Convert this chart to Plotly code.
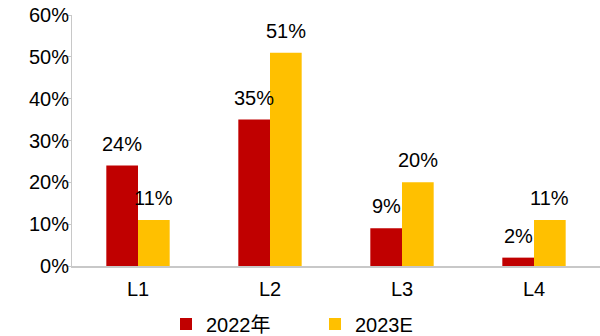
import plotly.graph_objects as go

categories = ["L1", "L2", "L3", "L4"]
series_names = ["2022年", "2023E"]
values_2022 = [24, 35, 9, 2]
values_2023 = [11, 51, 20, 11]
y_ticks = [0, 10, 20, 30, 40, 50, 60]
y_tick_labels = [f"{v}%" for v in y_ticks]

colors = ["#C00000", "#FFC000"]
font_family = "Liberation Sans, Arial, Noto Sans CJK SC, sans-serif"

fig = go.Figure()
for name, vals, col in zip(series_names, [values_2022, values_2023], colors):
    fig.add_trace(go.Bar(x=categories, y=vals, name=name, marker_color=col,
                         marker_line_width=0))

# value labels above bars
offsets = [-0.12, 0.12]
for off, vals in zip(offsets, [values_2022, values_2023]):
    for i, v in enumerate(vals):
        fig.add_annotation(x=i + off, y=v, text=f"{v}%", showarrow=False,
                           xref="x", yref="y", yanchor="bottom", yshift=9,
                           font=dict(size=20, color="#000000", family=font_family))

fig.update_layout(
    width=600, height=336,
    margin=dict(l=72, r=0, t=15, b=70),
    paper_bgcolor="white", plot_bgcolor="white",
    barmode="group", bargap=0.52, bargroupgap=0,
    font=dict(family=font_family, size=20, color="#000000"),
    showlegend=True,
    legend=dict(orientation="h", xref="container", yref="container",
                x=166 / 600, y=1 - 324 / 336, xanchor="left", yanchor="middle",
                font=dict(size=20), itemwidth=30,
                entrywidth=104, entrywidthmode="pixels",
                traceorder="normal"),
)
fig.update_xaxes(showline=True, linecolor="#C8C8C8", linewidth=2,
                 ticks="", showgrid=False, tickfont=dict(size=20),
                 ticklabelstandoff=4)
fig.update_yaxes(range=[0, 60], tickvals=y_ticks, ticktext=y_tick_labels,
                 showline=True, linecolor="#C8C8C8", linewidth=1,
                 ticks="outside", ticklen=5, tickcolor="#C8C8C8",
                 showgrid=False, zeroline=False, tickfont=dict(size=20),
                 ticklabelstandoff=-7)

fig.write_html("out.html")
